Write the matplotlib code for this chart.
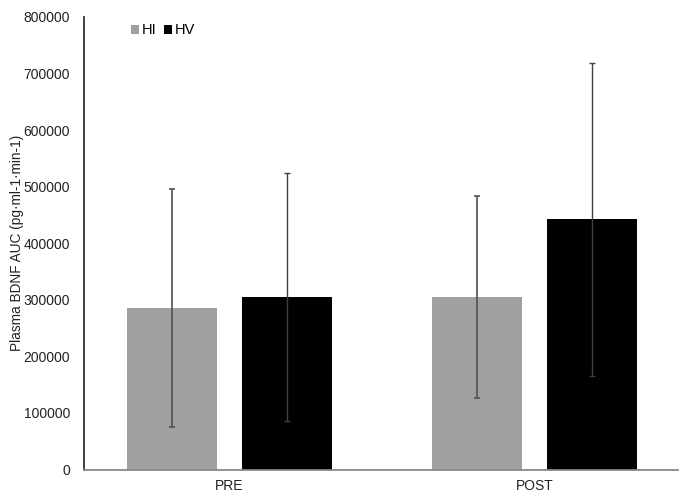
import matplotlib
matplotlib.use("Agg")
import matplotlib.pyplot as plt
from matplotlib.patches import Patch
import numpy as np

plt.rcParams['font.family'] = ['Liberation Sans', 'DejaVu Sans']

categories = ["PRE", "POST"]
series_names = ["HI", "HV"]
hi_means = [285500, 305300]
hi_err = [210000, 178500]
hv_means = [305500, 442400]
hv_err = [219000, 276600]
yticks = [0, 100000, 200000, 300000, 400000, 500000, 600000, 700000, 800000]

W, H = 679, 492
fig = plt.figure(figsize=(W / 100, H / 100), dpi=100)
left, right, bottom, top = 84, 679, 469.5, 17
ax = fig.add_axes([left / W, 1 - bottom / H, (right - left) / W, (bottom - top) / H])

x = np.arange(len(categories))
off = 0.1885
bw = 0.295
ax.bar(x - off, hi_means, bw, color="#a0a0a0", zorder=2, label=series_names[0])
ax.bar(x + off, hv_means, bw, color="#000000", zorder=2, label=series_names[1])
ax.errorbar(x - off, hi_means, yerr=hi_err, fmt="none", ecolor="#505050",
            elinewidth=1.2, capsize=2.5, capthick=1.2, zorder=3)
ax.errorbar(x + off, hv_means, yerr=hv_err, fmt="none", ecolor="#404040",
            elinewidth=1.0, capsize=2.5, capthick=1.0, zorder=3)

ax.set_xlim((84 - 229.5) / 305, (679 - 229.5) / 305)
ax.set_ylim(0, 800000)
ax.set_yticks(yticks)
ax.set_yticklabels([str(v) for v in yticks], fontsize=10, color="#222222")
ax.set_xticks(x)
ax.set_xticklabels(categories, fontsize=10, color="#222222")
ax.tick_params(axis="both", length=0)
ax.tick_params(axis="y", pad=10)
ax.tick_params(axis="x", pad=7)
for s in ["top", "right"]:
    ax.spines[s].set_visible(False)
ax.spines["left"].set_color("#333333")
ax.spines["left"].set_linewidth(1.3)
ax.spines["bottom"].set_color("#888888")
ax.spines["bottom"].set_linewidth(1.3)
ax.set_ylabel("Plasma BDNF AUC (pg·ml-1·min-1)", fontsize=9.8, color="#222222")
ax.yaxis.set_label_coords((24 - 84) / (679 - 84), 0.5)

handles = [Patch(facecolor="#a0a0a0", label=series_names[0]),
           Patch(facecolor="#000000", label=series_names[1])]
leg = fig.legend(handles=handles, loc="upper left", bbox_to_anchor=(124 / W, 1 - 16 / H),
                 ncol=2, frameon=False, fontsize=10.5, handlelength=0.55, handleheight=0.55,
                 handletextpad=0.2, columnspacing=0.5, borderpad=0)

fig.savefig("out.png", dpi=100)
